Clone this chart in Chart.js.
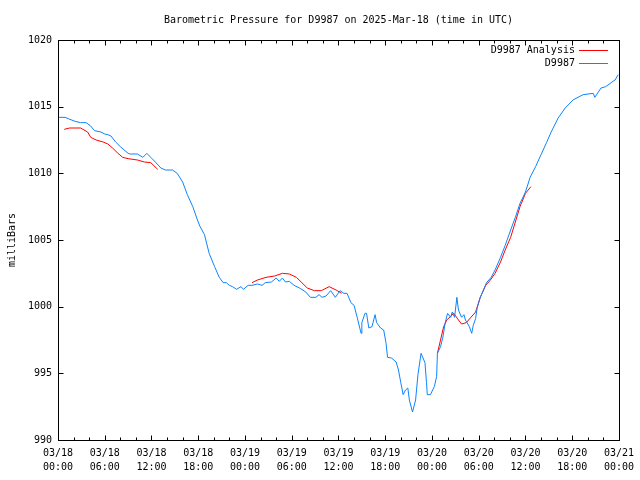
<!DOCTYPE html>
<html>
<head>
<meta charset="utf-8">
<script src="https://cdn.jsdelivr.net/npm/chart.js@4.4.1/dist/chart.umd.min.js"></script>
<style>
  html, body { margin: 0; padding: 0; background: #fff; }
  #wrap { width: 640px; height: 480px; }
</style>
</head>
<body>
<div id="wrap"><canvas id="chart" width="640" height="480"></canvas></div>
<script>
// hours since 03/18 00:00 UTC
const tickDates = ['03/18', '03/18', '03/18', '03/18', '03/19', '03/19', '03/19', '03/19', '03/20', '03/20', '03/20', '03/20', '03/21'];
const tickTimes = ['00:00', '06:00', '12:00', '18:00', '00:00', '06:00', '12:00', '18:00', '00:00', '06:00', '12:00', '18:00', '00:00'];

const stationHours = [0, 0.9, 1.3, 2.2, 2.9, 3.6, 4.1, 4.7, 5.5, 6.0, 6.4, 6.8, 7.4, 8.0, 9.0, 9.3, 10.2, 10.9, 11.4, 11.9,
  12.5, 13.2, 13.8, 14.7, 15.3, 16.0, 16.6, 17.3, 17.9, 18.2, 18.8, 19.4, 20.1, 20.7, 21.2, 21.6, 22.0, 22.4, 22.9, 23.5,
  23.8, 24.4, 24.9, 25.6, 26.2, 26.6, 27.4, 28.0, 28.4, 28.8, 29.2, 29.7, 30.3, 31.0, 31.8, 32.4, 33.1, 33.5, 33.9, 34.4,
  35.0, 35.6, 36.2, 36.7, 37.1, 37.6, 38.0, 38.4, 38.9, 39.0, 39.4, 39.6, 39.9, 40.3, 40.7, 40.9, 41.4, 41.8, 42.1, 42.3,
  42.8, 43.4, 43.7, 44.0, 44.3, 44.6, 44.9, 45.1, 45.5, 45.9, 46.2, 46.6, 47.1, 47.3, 47.4, 47.8, 48.3, 48.6, 48.7, 49.1,
  49.4, 49.7, 50.0, 50.4, 50.6, 50.9, 51.2, 51.4, 51.8, 52.1, 52.3, 52.8, 53.1, 53.3, 53.6, 53.8, 54.2, 54.5, 55.0, 55.6,
  56.1, 56.8, 57.4, 58.1, 58.7, 59.3, 60.0, 60.6, 61.3, 62.0, 62.7, 63.3, 64.2, 65.1, 66.1, 67.4, 68.7, 68.9, 69.7, 70.3,
  71.0, 71.5, 71.9];
const stationPressure = [1014.2, 1014.2, 1014.1, 1013.9, 1013.8, 1013.8, 1013.6, 1013.2, 1013.1, 1012.95, 1012.9, 1012.8, 1012.35, 1012.0, 1011.5, 1011.45, 1011.45, 1011.2, 1011.5, 1011.2,
  1010.85, 1010.4, 1010.25, 1010.25, 1010.0, 1009.35, 1008.4, 1007.5, 1006.5, 1006.05, 1005.4, 1004.0, 1003.0, 1002.2, 1001.8, 1001.8, 1001.6, 1001.5, 1001.3, 1001.5,
  1001.3, 1001.6, 1001.6, 1001.7, 1001.6, 1001.8, 1001.85, 1002.15, 1001.9, 1002.15, 1001.85, 1001.9, 1001.6, 1001.4, 1001.1, 1000.7, 1000.7, 1000.9, 1000.7, 1000.8,
  1001.2, 1000.7, 1001.2, 1001.0, 1001.0, 1000.3, 1000.1, 999.2, 998.0, 998.8, 999.5, 999.5, 998.4, 998.5, 999.4, 998.8, 998.4, 998.25, 997.3, 996.2,
  996.15, 995.85, 995.25, 994.3, 993.4, 993.75, 993.9, 993.0, 992.1, 993.0, 994.9, 996.5, 995.8, 994.3, 993.4, 993.4, 994.0, 994.75, 996.5, 997.0,
  997.7, 998.8, 999.5, 999.2, 999.6, 999.2, 1000.7, 999.75, 999.2, 999.4, 999.0, 998.5, 998.0, 998.6, 999.1, 999.9, 1000.7, 1001.1, 1001.8, 1002.2,
  1002.75, 1003.7, 1004.6, 1005.75, 1006.7, 1007.75, 1008.6, 1009.7, 1010.5, 1011.4, 1012.3, 1013.1, 1014.15, 1014.9, 1015.5, 1015.9, 1016.0, 1015.7, 1016.4, 1016.5,
  1016.8, 1017.0, 1017.4];

// analysis runs, null = break between runs
const analysisHours = [0.8, 1.5, 2.9, 3.8, 4.2, 4.9, 5.8, 6.4, 7.0, 7.7, 8.3, 9.0, 10.2, 11.1, 11.9, 12.8, 18.8,
  24.9, 25.6, 26.7, 27.8, 28.8, 29.7, 30.6, 31.3, 32.0, 32.9, 33.8, 34.8, 35.7, 36.4, 42.0,
  48.7, 49.5, 49.9, 50.8, 51.4, 51.8, 52.4, 53.6, 54.2, 54.9, 55.5, 56.1, 56.8, 57.4, 58.1, 58.7, 59.3, 60.0, 60.7];
const analysisPressure = [1013.3, 1013.4, 1013.4, 1013.1, 1012.7, 1012.5, 1012.35, 1012.2, 1011.9, 1011.5, 1011.2, 1011.1, 1011.0, 1010.85, 1010.8, 1010.3, null,
  1001.8, 1002.0, 1002.2, 1002.3, 1002.5, 1002.45, 1002.2, 1001.8, 1001.4, 1001.2, 1001.2, 1001.5, 1001.25, 1001.0, null,
  996.5, 998.5, 999.0, 999.5, 999.0, 998.7, 998.8, 999.6, 1000.7, 1001.6, 1002.0, 1002.5, 1003.35, 1004.25, 1005.2, 1006.35, 1007.5, 1008.5, 1009.0];

const FONT = { family: "'DejaVu Sans Mono', monospace", size: 10 };
const RED = '#ff0000';
const BLUE = '#0a84ff';

const toPoints = (xs, ys) => xs.map((x, i) => ({ x, y: ys[i] }));

// gnuplot style frame, inward ticks and top-right legend
const framePlugin = {
  id: 'frame',
  afterDraw(chart) {
    const { ctx, chartArea: a, scales } = chart;
    const L = Math.round(a.left) + 0.5, R = Math.round(a.right) + 0.5;
    const T = Math.round(a.top) + 0.5, B = Math.round(a.bottom) + 0.5;
    ctx.save();
    ctx.strokeStyle = '#000';
    ctx.lineWidth = 1;
    ctx.beginPath();
    for (let h = 0; h <= 72; h += 2) {
      const x = Math.round(scales.x.getPixelForValue(h)) + 0.5;
      const len = h % 6 === 0 ? 5 : 3;
      ctx.moveTo(x, B); ctx.lineTo(x, B - len);
      ctx.moveTo(x, T); ctx.lineTo(x, T + len);
    }
    for (let v = 990; v <= 1020; v += 5) {
      const y = Math.round(scales.y.getPixelForValue(v)) + 0.5;
      ctx.moveTo(L, y); ctx.lineTo(L + 5, y);
      ctx.moveTo(R, y); ctx.lineTo(R - 5, y);
    }
    ctx.stroke();
    ctx.strokeRect(L, T, R - L, B - T);

    // legend
    ctx.font = `${FONT.size}px ${FONT.family}`;
    ctx.textAlign = 'right';
    ctx.textBaseline = 'middle';
    ctx.fillStyle = '#000';
    const entries = [chart.data.datasets[0], chart.data.datasets[1]];
    entries.forEach((ds, i) => {
      const y = Math.round(a.top + 10 + i * 12.5) + 0.5;
      ctx.fillText(ds.label, a.right - 44, y);
      ctx.strokeStyle = ds.borderColor;
      ctx.beginPath();
      ctx.moveTo(a.right - 40, y);
      ctx.lineTo(a.right - 11, y);
      ctx.stroke();
    });
    ctx.restore();
  },
};

new Chart(document.getElementById('chart'), {
  type: 'line',
  data: {
    datasets: [
      {
        label: 'D9987 Analysis',
        data: toPoints(analysisHours, analysisPressure),
        borderColor: RED,
        borderWidth: 1,
        pointRadius: 0,
        spanGaps: false,
        order: 1,
      },
      {
        label: 'D9987',
        data: toPoints(stationHours, stationPressure),
        borderColor: BLUE,
        borderWidth: 1,
        pointRadius: 0,
        order: 0,
      },
    ],
  },
  options: {
    responsive: false,
    animation: false,
    layout: { padding: { left: 0, right: 19, top: 0, bottom: 0 } },
    plugins: {
      legend: { display: false },
      tooltip: { enabled: false },
      title: {
        display: true,
        text: 'Barometric Pressure for D9987 on 2025-Mar-18 (time in UTC)',
        color: '#000',
        font: { ...FONT, weight: 'normal', lineHeight: 1.2 },
        padding: { top: 14, bottom: 14 },
        fullSize: false,
      },
    },
    scales: {
      x: {
        type: 'linear',
        min: 0,
        max: 72,
        border: { display: false },
        grid: { display: false, drawTicks: false },
        afterFit: (s) => { s.height = 40; },
        ticks: {
          stepSize: 6,
          autoSkip: false,
          maxRotation: 0,
          padding: 6,
          color: '#000',
          font: { ...FONT, lineHeight: 1.4 },
          callback: (v) => [tickDates[v / 6], tickTimes[v / 6]],
        },
      },
      y: {
        min: 990,
        max: 1020,
        border: { display: false },
        grid: { display: false, drawTicks: false },
        afterFit: (s) => { s.width = 58; },
        ticks: { stepSize: 5, padding: 6, color: '#000', font: FONT, callback: (v) => String(v) },
        title: {
          display: true,
          text: 'milliBars',
          color: '#000',
          font: { ...FONT, lineHeight: 1.2 },
          padding: { top: 6, bottom: 0 },
        },
      },
    },
  },
  plugins: [framePlugin],
});
</script>
</body>
</html>
